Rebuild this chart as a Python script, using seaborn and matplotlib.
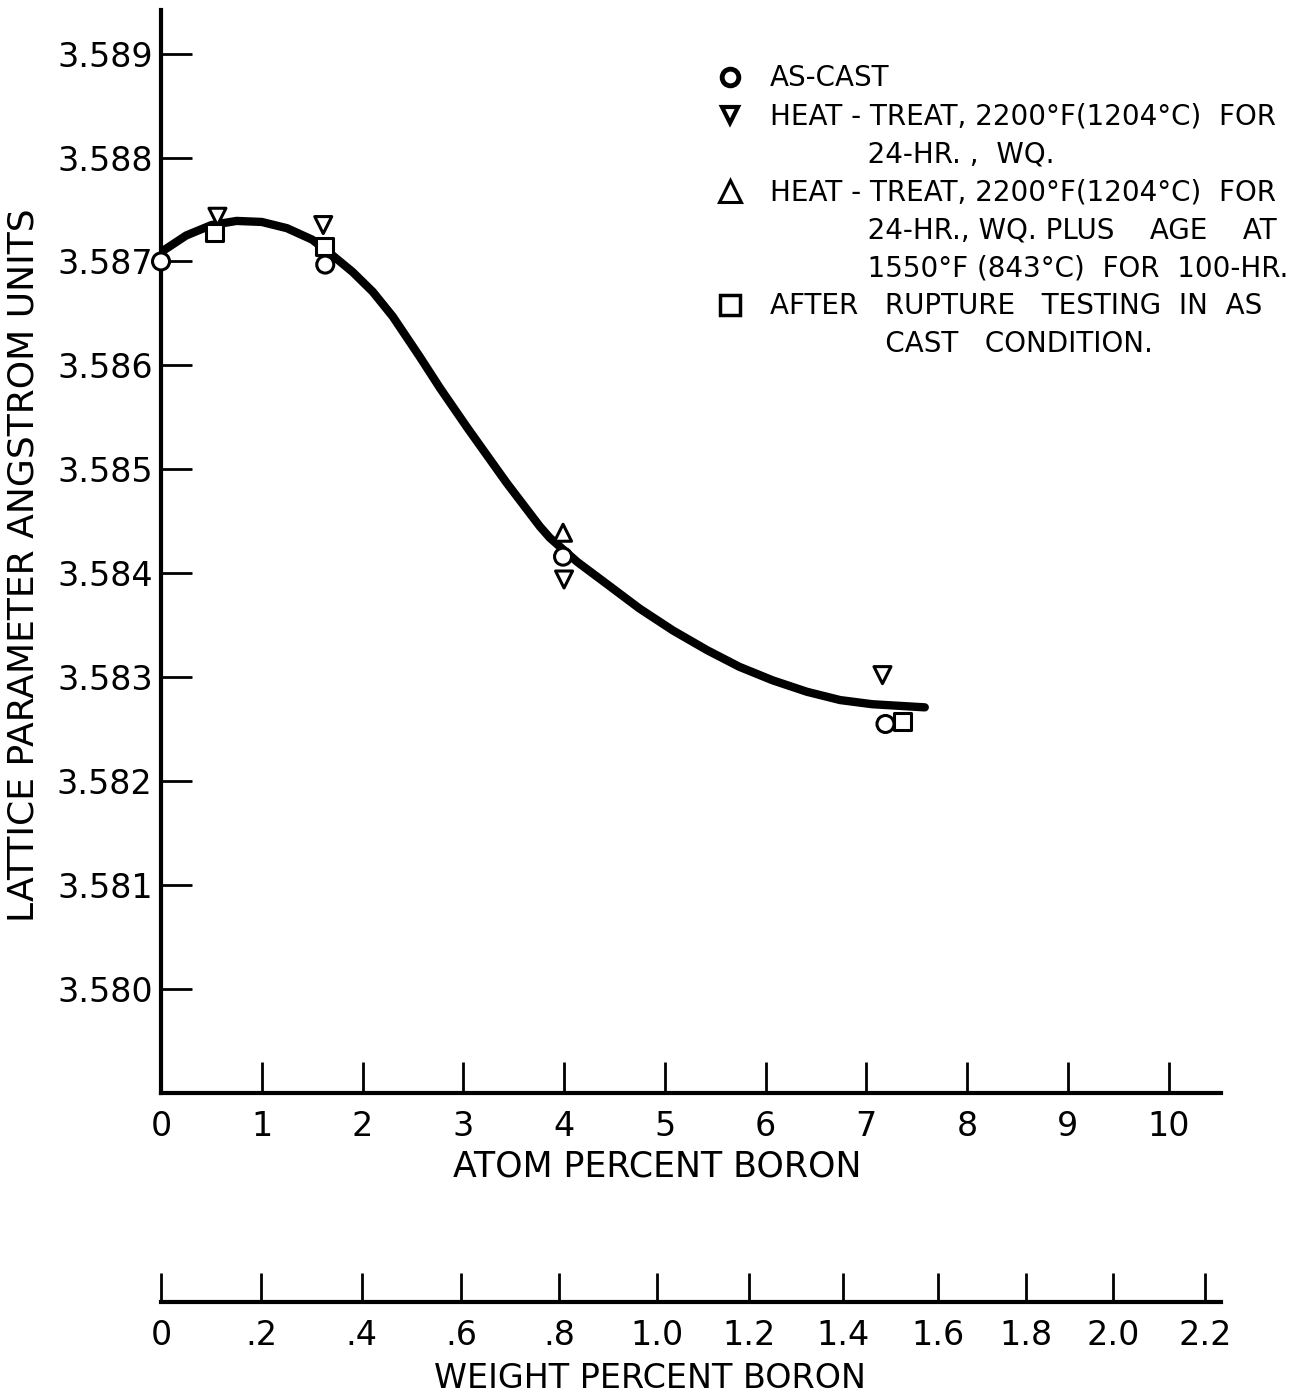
import numpy as np
import pandas as pd
import matplotlib
matplotlib.use("Agg")
import matplotlib.pyplot as plt
from matplotlib.lines import Line2D
import seaborn as sns

# smooth fitted curve
curve_atom = [0.0, 0.25, 0.5, 0.75, 1.0, 1.25, 1.5, 1.7, 1.9, 2.1, 2.3, 2.57, 2.77, 3.04, 3.29, 3.43,
              3.76, 3.86, 4.13, 4.42, 4.75, 5.08, 5.42, 5.74, 6.07, 6.41, 6.74, 7.06, 7.58]
curve_lattice = [3.58709, 3.58725, 3.58735, 3.58739, 3.58738, 3.58732, 3.58721, 3.58706, 3.58690, 3.58671,
                 3.58647, 3.58608, 3.58578, 3.58540, 3.58506, 3.58487,
                 3.58445, 3.58434, 3.58411, 3.58390, 3.58366, 3.58345, 3.58326, 3.58310, 3.58297,
                 3.58286, 3.58278, 3.58274, 3.58271]

# measured points
as_cast_atom = [0.0, 1.63, 3.99, 7.19]
as_cast_lat = [3.58700, 3.58697, 3.58416, 3.58255]
heat_atom = [0.56, 1.61, 4.0, 7.16]
heat_lat = [3.58743, 3.58735, 3.58394, 3.58302]
aged_atom = [3.99]
aged_lat = [3.58439]
rupture_atom = [0.53, 1.62, 7.36]
rupture_lat = [3.58728, 3.58714, 3.58257]

conditions = ["as-cast", "heat", "aged", "rupture"]
markers = {"as-cast": "o", "heat": "v", "aged": "^", "rupture": "s"}

y_ticks = [3.580, 3.581, 3.582, 3.583, 3.584, 3.585, 3.586, 3.587, 3.588, 3.589]
atom_ticks = list(range(0, 11))
# weight-percent scale positions (in atom percent) and labels
weight_pos = [0.0, 0.995, 1.99, 2.98, 3.95, 4.92, 5.84, 6.77, 7.71, 8.58, 9.45, 10.36]
weight_labels = ["0", ".2", ".4", ".6", ".8", "1.0", "1.2", "1.4", "1.6", "1.8", "2.0", "2.2"]

legend_labels = [
    "AS-CAST",
    "HEAT - TREAT, 2200°F(1204°C)  FOR",
    "           24-HR. ,  WQ.",
    "HEAT - TREAT, 2200°F(1204°C)  FOR",
    "           24-HR., WQ. PLUS    AGE    AT",
    "           1550°F (843°C)  FOR  100-HR.",
    "AFTER   RUPTURE   TESTING  IN  AS",
    "             CAST   CONDITION.",
]

points = pd.concat([
    pd.DataFrame({"atom": as_cast_atom, "lattice": as_cast_lat, "condition": "as-cast"}),
    pd.DataFrame({"atom": heat_atom, "lattice": heat_lat, "condition": "heat"}),
    pd.DataFrame({"atom": aged_atom, "lattice": aged_lat, "condition": "aged"}),
    pd.DataFrame({"atom": rupture_atom, "lattice": rupture_lat, "condition": "rupture"}),
], ignore_index=True)

sns.set_style("ticks")
plt.rcParams["font.family"] = ["DejaVu Sans"]
plt.rcParams["text.color"] = "black"
plt.rcParams["axes.labelcolor"] = "black"
plt.rcParams["xtick.color"] = "black"
plt.rcParams["ytick.color"] = "black"

fig = plt.figure(figsize=(13.08, 13.98), dpi=100)
ax = fig.add_axes([0.1231, 0.2182, 0.8104, 0.7747])

sns.lineplot(x=curve_atom, y=curve_lattice, color="black", linewidth=6, sort=False, ax=ax, zorder=2)
sns.scatterplot(data=points, x="atom", y="lattice", style="condition", markers=markers,
                style_order=conditions, color="white", edgecolor="black", linewidth=2.2,
                s=150, legend=False, ax=ax, zorder=3, clip_on=False)

ax.set_xlim(0, 10.52)
ax.set_ylim(3.579, 3.58942)
ax.set_xticks(atom_ticks)
ax.set_xticklabels([str(t) for t in atom_ticks])
ax.set_yticks(y_ticks)
ax.set_yticklabels([f"{t:.3f}" for t in y_ticks])
ax.tick_params(axis="both", direction="in", length=22, width=2, labelsize=24, color="black",
               labelcolor="black")
ax.tick_params(axis="x", pad=12)
ax.tick_params(axis="y", pad=6)
for side in ["top", "right"]:
    ax.spines[side].set_visible(False)
for side in ["left", "bottom"]:
    ax.spines[side].set_linewidth(3)
    ax.spines[side].set_color("black")

ax.set_xlabel("ATOM PERCENT BORON", fontsize=25, color="black")
ax.xaxis.set_label_coords(0.5023, 0.1774, transform=fig.transFigure)
ax.set_ylabel("LATTICE PARAMETER ANGSTROM UNITS", fontsize=26, color="black")
ax.yaxis.set_label_coords(0.031, 0.596, transform=fig.transFigure)

# legend
handles = [
    Line2D([], [], ls="", marker="o", mfc="white", mec="black", mew=3.5, ms=12),
    Line2D([], [], ls="", marker="v", mfc="white", mec="black", mew=3, ms=11),
    Line2D([], [], ls=""),
    Line2D([], [], ls="", marker="^", mfc="white", mec="black", mew=2.2, ms=16),
    Line2D([], [], ls=""),
    Line2D([], [], ls=""),
    Line2D([], [], ls="", marker="s", mfc="white", mec="black", mew=2.5, ms=15),
    Line2D([], [], ls=""),
]
leg = fig.legend(handles, legend_labels, loc="upper left", bbox_to_anchor=(0.5443, 0.954),
                 frameon=False, fontsize=20, handlelength=1.3, handletextpad=0.8,
                 borderpad=0, borderaxespad=0, labelspacing=0.36)
for t in leg.get_texts():
    t.set_color("black")

# weight percent scale
ax2 = fig.add_axes([0.1231, 0.0687, 0.8104, 0.0001])
ax2.set_xlim(0, 10.52)
ax2.set_yticks([])
ax2.set_xticks(weight_pos)
ax2.set_xticklabels(weight_labels)
ax2.tick_params(axis="x", direction="in", length=21, width=2, labelsize=24, pad=12,
                color="black", labelcolor="black")
for side in ["top", "right", "left"]:
    ax2.spines[side].set_visible(False)
ax2.spines["bottom"].set_linewidth(3)
ax2.spines["bottom"].set_color("black")
ax2.set_facecolor("none")
ax2.set_xlabel("WEIGHT PERCENT BORON", fontsize=24, color="black")
ax2.xaxis.label.set_va("bottom")
ax2.xaxis.set_label_coords(0.497, 0.002, transform=fig.transFigure)

fig.savefig("out.png", dpi=100)
